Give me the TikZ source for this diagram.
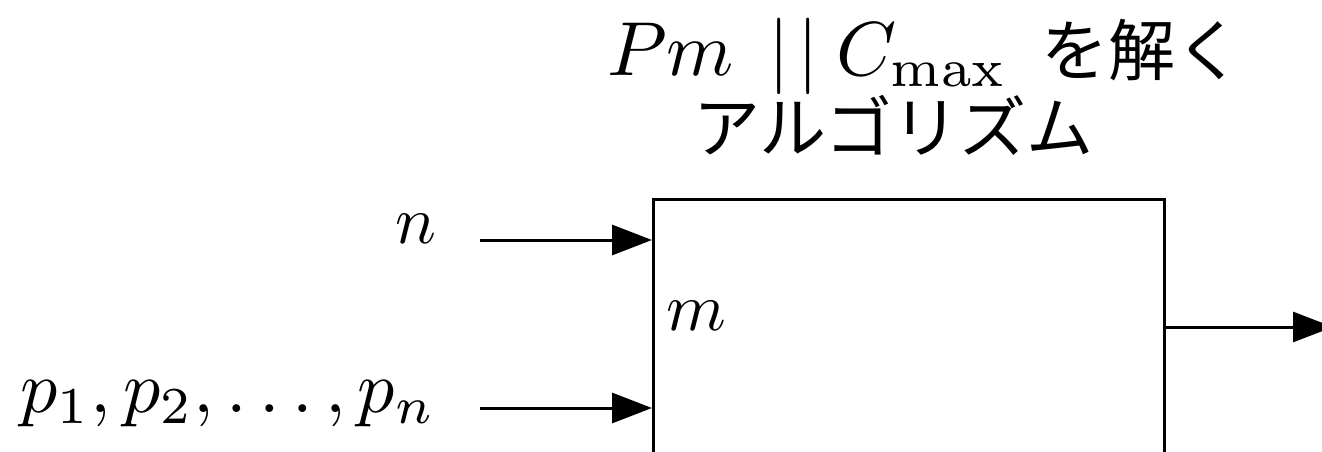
\documentclass[tikz,border=0pt]{standalone}
\usepackage{graphicx}
\usepackage{fontspec}
\newfontfamily\jp{Noto Sans CJK JP}
\usetikzlibrary{arrows.meta}
\tikzset{
  lbl/.style={inner sep=0pt},
  conn/.style={line width=3pt, -{Triangle[length=40pt,width=30pt]}},
  blk/.style={draw, line width=3pt, inner sep=0pt, minimum width=511pt, minimum height=300pt, anchor=north west}
}
\begin{document}
\begin{tikzpicture}[x=1pt,y=-1pt]
\useasboundingbox (0,0) rectangle (1322,452);
\node[blk] (box) at (652,198) {};
\node[lbl, anchor=base west] (t1) at (607,75) {\raisebox{0pt}[\height][6pt]{\scalebox{7.65}{$Pm\mkern8mu|\mkern2mu|\mkern4mu C_{\max}$}\hspace{34pt}\scalebox{6.7}{\jp を解く}}};
\node[lbl, anchor=base] (t2) at (893,152) {\raisebox{0pt}[48pt][\depth]{\scalebox{6.7}{\jp アルゴリズム}}};
\node[lbl, anchor=base east] (n) at (437,243) {\scalebox{6.8}{$n$}};
\node[lbl, anchor=base east] (p) at (436,412) {\scalebox{7.4}{$p_1, p_2, \ldots, p_n$}};
\node[lbl, anchor=base west] (m) at (666,330) {\scalebox{6.8}{$m$}};
\coordinate (na) at (480,240);
\coordinate (pa) at (480,408);
\coordinate (out) at (1333,327);
\draw[conn] (na) -- (na -| box.west);
\draw[conn] (pa) -- (pa -| box.west);
\draw[conn] (out -| box.east) -- (out);
\end{tikzpicture}
\end{document}
